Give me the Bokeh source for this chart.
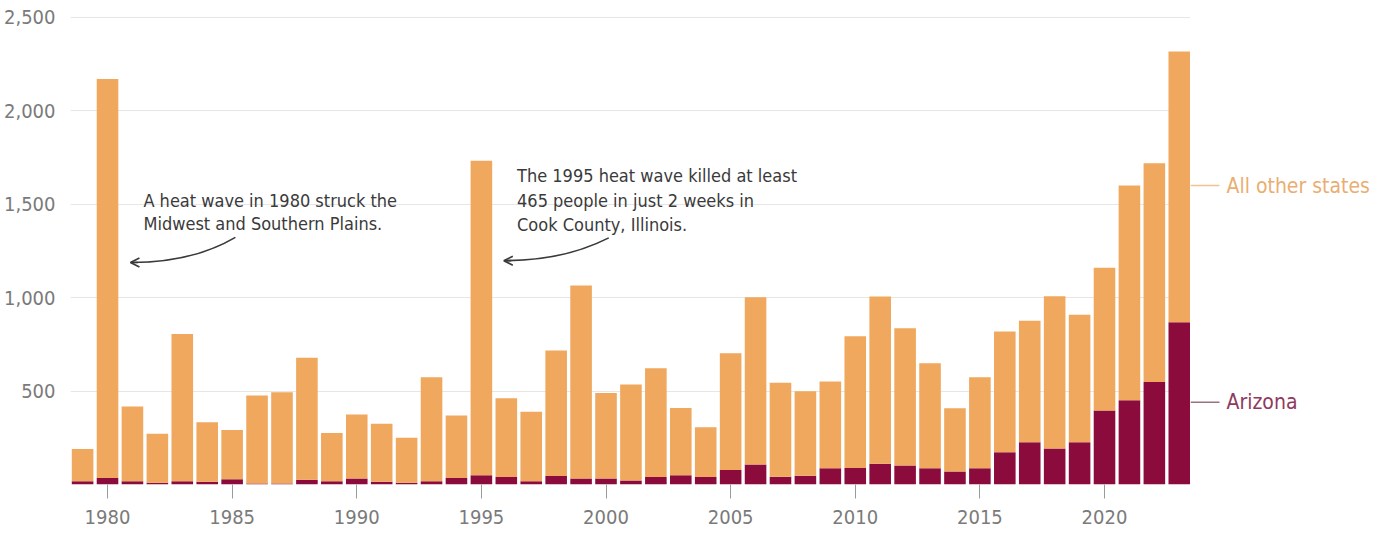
from bokeh.plotting import figure
from bokeh.layouts import row
from bokeh.models import (ColumnDataSource, FixedTicker, Range1d, Label, Arrow,
                          OpenHead, NumeralTickFormatter)
from bokeh.embed import file_html
from bokeh.resources import INLINE
from bokeh.core.properties import value

# ---- data ----
years = list(range(1979, 2024))
arizona = [18, 35, 18, 10, 18, 15, 28, 5, 5, 25, 18, 32, 15, 10, 18, 35,
           50, 40, 18, 45, 32, 32, 22, 40, 50, 40, 77, 107, 42, 47, 87, 88,
           111, 102, 87, 70, 87, 173, 226, 193, 226, 396, 451, 549, 868]
totals = [190, 2170, 417, 271, 806, 333, 292, 476, 494, 678, 276, 375, 325, 250, 574, 369,
          1733, 462, 390, 717, 1065, 490, 535, 622, 410, 307, 703, 1002, 544, 499, 551, 794,
          1006, 836, 649, 408, 574, 819, 877, 1007, 908, 1160, 1600, 1719, 2317]
other = [t - a for t, a in zip(totals, arizona)]
x_ticks = [1980, 1985, 1990, 1995, 2000, 2005, 2010, 2015, 2020]
y_ticks = [500, 1000, 1500, 2000, 2500]
series_names = ["Arizona", "All other states"]
series_label_y = [440, 1600]

ORANGE = "#EFA85E"
CRIMSON = "#8C0B3D"
FONT = "DejaVu Sans Condensed"

src = ColumnDataSource(dict(year=years, arizona=arizona, other=other))
yr = Range1d(0, 2537)

p = figure(width=1190, height=535, output_backend="svg", toolbar_location=None,
           x_range=Range1d(1978.515, 2023.45), y_range=yr,
           min_border_left=70, min_border_right=0, min_border_top=10, min_border_bottom=51)
p.outline_line_color = None

p.vbar_stack(["arizona", "other"], x="year", width=0.866, source=src,
             color=[CRIMSON, ORANGE], line_color=None)

# axes
p.xaxis.ticker = FixedTicker(ticks=x_ticks)
p.xaxis.axis_line_color = None
p.xaxis.major_tick_line_color = "#9a9a9a"
p.xaxis.major_tick_out = 14
p.xaxis.major_tick_in = 0
p.xaxis.minor_tick_line_color = None
p.xaxis.major_label_text_font = FONT
p.xaxis.major_label_text_font_size = "20px"
p.xaxis.major_label_text_color = "#7a7a7a"
p.xaxis.major_label_standoff = 11

p.yaxis.ticker = FixedTicker(ticks=y_ticks)
p.yaxis.formatter = NumeralTickFormatter(format="0,0")
p.yaxis.axis_line_color = None
p.yaxis.major_tick_line_color = None
p.yaxis.minor_tick_line_color = None
p.yaxis.major_label_text_font = FONT
p.yaxis.major_label_text_font_size = "20px"
p.yaxis.major_label_text_color = "#7a7a7a"
p.yaxis.major_label_standoff = 9

p.xgrid.grid_line_color = None
p.ygrid.ticker = FixedTicker(ticks=y_ticks)
p.ygrid.grid_line_color = "#e6e6e6"
p.ygrid.grid_line_width = 1

# annotations
ANN = "#3a3a3a"
ann1 = ["A heat wave in 1980 struck the", "Midwest and Southern Plains."]
ann2 = ["The 1995 heat wave killed at least", "465 people in just 2 weeks in",
        "Cook County, Illinois."]
for i, t in enumerate(ann1):
    p.add_layout(Label(x=1981.44, y=1519 - i * 123, text=t, text_font=FONT,
                       text_font_size="18px", text_color=ANN, text_baseline="alphabetic"))
for i, t in enumerate(ann2):
    p.add_layout(Label(x=1996.43, y=1653 - i * 131, text=t, text_font=FONT,
                       text_font_size="18px", text_color=ANN, text_baseline="alphabetic"))

# curved arrows
p.quadratic(x0=[1985.13, 2000.11], y0=[1323, 1320], x1=[1980.95, 1995.93], y1=[1188, 1198],
            cx=[1983.4, 1998.3], cy=[1188, 1198], line_color=ANN, line_width=1.6)
for (xt, yt) in [(1980.92, 1188), (1995.9, 1198)]:
    p.add_layout(Arrow(x_start=xt + 0.3, y_start=yt, x_end=xt, y_end=yt,
                       end=OpenHead(size=9, line_color=ANN, line_width=1.6),
                       line_color=ANN, line_width=1.6))

# right-hand series labels panel (shares the y scale)
q = figure(width=198, height=535, output_backend="svg", toolbar_location=None,
           x_range=Range1d(0, 198), y_range=yr,
           min_border_left=0, min_border_right=0, min_border_top=10, min_border_bottom=51)
q.outline_line_color = None
q.axis.visible = False
q.grid.grid_line_color = None
lsrc = ColumnDataSource(dict(y=series_label_y, name=series_names,
                             line_color=["#9b7082", "#f0c48f"],
                             text_color=["#8E3A5E", "#E9AE72"]))
q.segment(x0=0, x1=29, y0="y", y1="y", source=lsrc, line_color="line_color", line_width=1.5)
q.text(x=36, y="y", text="name", source=lsrc, text_color="text_color",
       text_font=value(FONT), text_font_size="21px", text_baseline="middle")

layout = row(p, q, spacing=0)
open("out.html", "w").write(file_html(layout, INLINE))
